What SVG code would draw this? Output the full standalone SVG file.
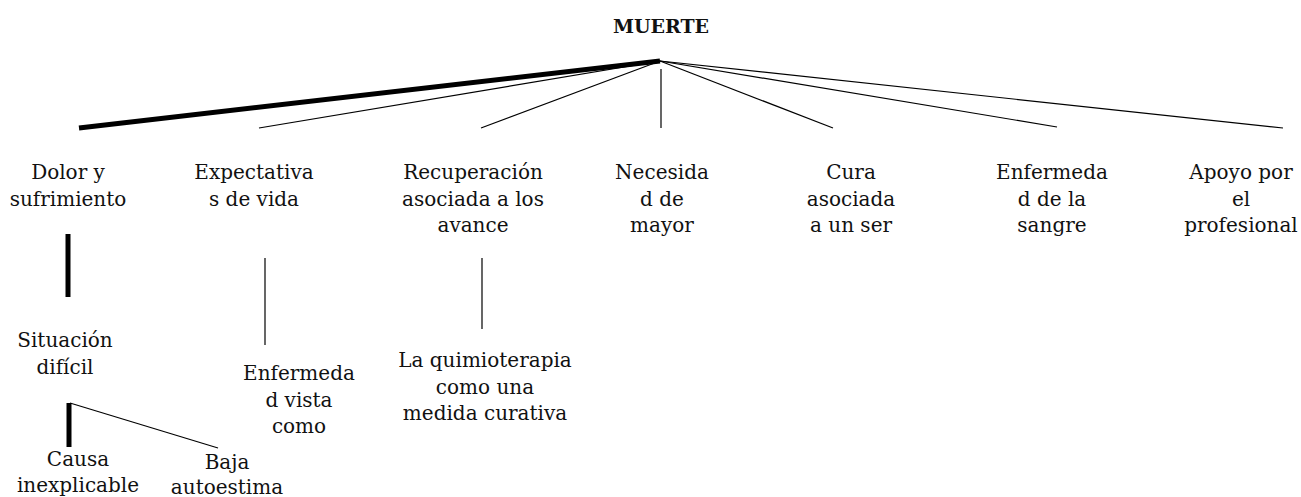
<svg xmlns="http://www.w3.org/2000/svg" width="1301" height="497" viewBox="0 0 1301 497">
<style>
text{font-family:"DejaVu Serif","Liberation Serif",serif;font-size:20px;fill:#111;text-anchor:middle}
.title{font-weight:bold;font-size:19px}
.thin{stroke:#000;stroke-width:1.2;fill:none}
.thick{stroke:#000;stroke-width:5;fill:none}
</style>
<rect width="1301" height="497" fill="#fff"/>
<g id="connectors">
<line class="thick" x1="79" y1="128" x2="660" y2="61"/>
<line class="thin" x1="259" y1="128" x2="660" y2="61"/>
<line class="thin" x1="481" y1="128" x2="660" y2="61"/>
<line class="thin" x1="661" y1="69" x2="661" y2="128"/>
<line class="thin" x1="833" y1="128" x2="660" y2="61"/>
<line class="thin" x1="1057" y1="127" x2="660" y2="61"/>
<line class="thin" x1="1283" y1="128" x2="660" y2="61"/>
<line class="thick" x1="68" y1="234" x2="68" y2="297"/>
<line class="thin" x1="265" y1="258" x2="265" y2="345"/>
<line class="thin" x1="482" y1="258" x2="482" y2="329"/>
<line class="thick" x1="69" y1="403" x2="69" y2="447"/>
<line class="thin" x1="70" y1="403" x2="218" y2="448"/>
</g>
<g id="n-muerte"><text class="title" x="661" y="33">MUERTE</text></g>
<g id="n-dolor"><text x="68" y="179">Dolor y</text><text x="68" y="205.5">sufrimiento</text></g>
<g id="n-expectativa"><text x="254" y="179">Expectativa</text><text x="254" y="205.5">s de vida</text></g>
<g id="n-recuperacion"><text x="473" y="179">Recuperación</text><text x="473" y="205.5">asociada a los</text><text x="473" y="232">avance</text></g>
<g id="n-necesidad"><text x="662" y="179">Necesida</text><text x="662" y="205.5">d de</text><text x="662" y="232">mayor</text></g>
<g id="n-cura"><text x="851" y="179">Cura</text><text x="851" y="205.5">asociada</text><text x="851" y="232">a un ser</text></g>
<g id="n-enfermedad-sangre"><text x="1052" y="179">Enfermeda</text><text x="1052" y="205.5">d de la</text><text x="1052" y="232">sangre</text></g>
<g id="n-apoyo"><text x="1241" y="179">Apoyo por</text><text x="1241" y="205.5">el</text><text x="1241" y="232">profesional</text></g>
<g id="n-situacion"><text x="65" y="347">Situación</text><text x="65" y="373.5">difícil</text></g>
<g id="n-enfermedad-vista"><text x="299" y="380">Enfermeda</text><text x="299" y="406.5">d vista</text><text x="299" y="433">como</text></g>
<g id="n-quimioterapia"><text x="485" y="367">La quimioterapia</text><text x="485" y="393.5">como una</text><text x="485" y="420">medida curativa</text></g>
<g id="n-causa"><text x="78" y="466">Causa</text><text x="78" y="492">inexplicable</text></g>
<g id="n-baja"><text x="227" y="469">Baja</text><text x="227" y="494">autoestima</text></g>
</svg>
